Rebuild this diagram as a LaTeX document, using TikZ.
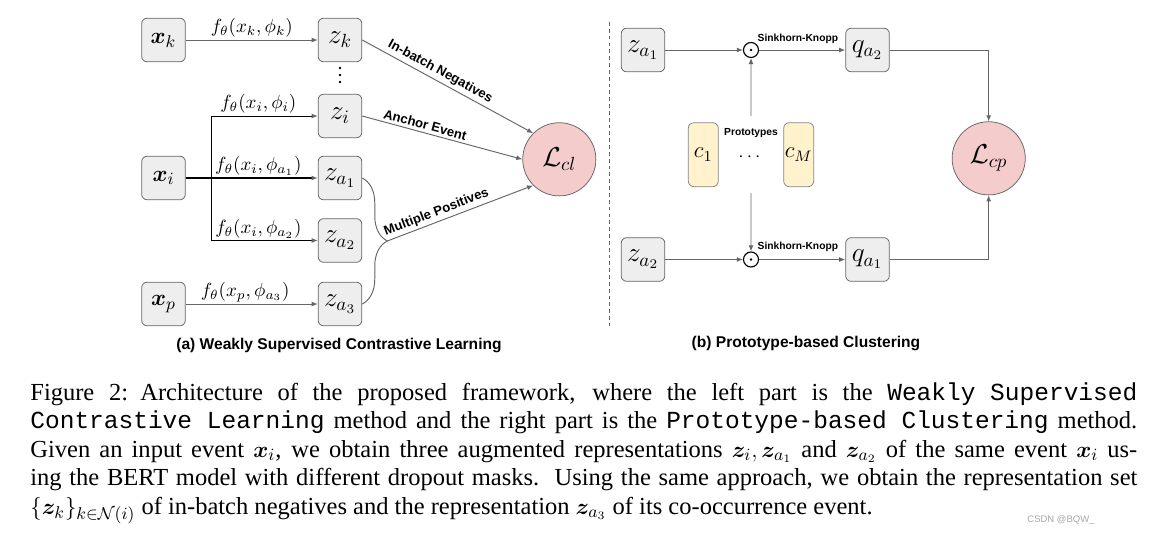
\documentclass[tikz,border=0pt]{standalone}
\usepackage[no-math]{fontspec}
\setmainfont{Liberation Serif}
\setsansfont{Liberation Sans}
\setmonofont{Liberation Mono}
\usepackage{amsmath,bm}
\usetikzlibrary{arrows.meta,positioning,calc,fit,decorations.pathreplacing}

\definecolor{boxgray}{HTML}{EEEEEE}
\definecolor{linegray}{HTML}{666666}
\definecolor{losspink}{HTML}{F4CCCC}
\definecolor{protoyellow}{HTML}{FFF2CC}

\begin{document}
\begin{tikzpicture}[
  x=0.5263pt, y=-0.5263pt,
  blk/.style={draw=linegray, fill=boxgray, rounded corners=3pt, minimum width=23pt, minimum height=23pt, inner sep=0pt, font=\Large},
  inbox/.style={blk, font=\fontsize{13}{15}\selectfont},
  protobox/.style={draw=linegray!80, fill=protoyellow, rounded corners=3pt, minimum width=15.8pt, minimum height=33.7pt, inner sep=0pt, font=\large},
  loss/.style={circle, draw=linegray, fill=losspink, minimum size=38.5pt, inner sep=0pt, font=\Large},
  odot/.style={circle, draw=black, line width=0.6pt, minimum size=7.9pt, inner sep=0pt},
  flow/.style={draw=linegray, line width=0.5pt, -{Latex[length=3.2pt,width=2.6pt]}},
  branch/.style={draw=black, line width=0.5pt, -{Latex[length=3.2pt,width=2.6pt,fill=linegray,color=linegray]}},
  flabel/.style={above, inner sep=1pt, font=\normalsize},
  tag/.style={sloped, above, inner sep=1.5pt, font=\sffamily\bfseries\fontsize{6.9}{8}\selectfont},
  small/.style={inner sep=1pt, font=\sffamily\bfseries\fontsize{5.4}{6.5}\selectfont},
  subcap/.style={inner sep=0pt, font=\sffamily\bfseries\fontsize{8.2}{10}\selectfont}
]
  \useasboundingbox (0,0) rectangle (1164,534);

  % (a) parte izquierda
  \node[inbox] (xk) at (163.5,40) {$\bm{x}_k$};
  \node[blk] (zk) at (340,40) {$z_k$};
  \coordinate (vdots) at (340,75);
  \node[blk] (zi) at (340,116) {$z_i$};
  \node[inbox] (xi) at (163.5,178) {$\bm{x}_i$};
  \node[blk] (za1) at (340,178) {$z_{a_1}$};
  \node[blk] (za2) at (340,240.5) {$z_{a_2}$};
  \node[inbox] (xp) at (163.5,304) {$\bm{x}_p$};
  \node[blk] (za3) at (340,304) {$z_{a_3}$};
  \node[loss] (lcl) at (559.3,159.3) {$\mathcal{L}_{cl}$};

  \coordinate (fork) at (211.7,178);
  \coordinate[xshift=13.2pt] (tip) at ($(za1.east)!.5!(za3.east)$);
  \foreach \d in {-7,0,7}
    \fill ($(vdots)+(0,\d)$) circle (0.7pt);

  % Aristas
  \draw[flow] (xk) -- node[flabel] {$f_\theta(x_k,\phi_k)$} (zk);
  \draw[branch, line width=1pt] (xi) -- node[flabel, pos=.55] {$f_\theta(x_i,\phi_{a_1})$} (za1);
  \draw[branch] (fork) |- node[flabel, pos=.72] {$f_\theta(x_i,\phi_i)$} (zi);
  \draw[branch] (fork) |- node[flabel, pos=.72] {$f_\theta(x_i,\phi_{a_2})$} (za2);
  \draw[flow] (xp) -- node[flabel, pos=.45] {$f_\theta(x_p,\phi_{a_3})$} (za3);

  \draw[flow] (zk.east) -- node[tag, pos=.43] {In-batch Negatives} (lcl.135);
  \draw[flow] (zi.east) -- node[tag, pos=.38] {Anchor Event} (lcl.west);
  \draw[linegray, line width=0.5pt, decorate, decoration={brace, amplitude=13.2pt}] (za1.east) -- (za3.east);
  \draw[flow] (tip) -- node[tag, pos=.36] {Multiple Positives} (lcl.225);

  % separador
  \draw[linegray, dash pattern=on 2pt off 1.6pt] (609.5,22) -- (609.5,326);

  % (b) parte derecha
  \node[blk] (rza1) at (643,50) {$z_{a_1}$};
  \node[odot] (dot1) at (751,50) {};
  \node[blk] (qa2) at (867.5,50) {$q_{a_2}$};
  \node[protobox] (c1) at (703.3,154.7) {$c_1$};
  \node[protobox] (cM) at (798.7,154.7) {$c_M$};
  \node[small] (protolbl) at (751,132.7) {Prototypes};
  \node (pdots) at (751,157) {$\cdots$};
  \node[fit=(c1)(cM)(protolbl), inner sep=3pt] (protos) {};
  \node[blk] (rza2) at (643,259.5) {$z_{a_2}$};
  \node[odot] (dot2) at (751,259.5) {};
  \node[blk] (qa1) at (867.5,259.5) {$q_{a_1}$};
  \node[loss] (lcp) at (988.7,158.3) {$\mathcal{L}_{cp}$};
  \fill (dot1) circle (0.75pt);
  \fill (dot2) circle (0.75pt);

  \draw[flow] (rza1) -- (dot1);
  \draw[flow] (dot1) -- node[small, above=2pt, pos=.45] {Sinkhorn-Knopp} (qa2);
  \draw[flow] (protos.north) -- (dot1);
  \draw[flow] (protos.south) -- (dot2);
  \draw[flow] (rza2) -- (dot2);
  \draw[flow] (dot2) -- node[small, above=3pt, pos=.45] {Sinkhorn-Knopp} (qa1);
  \draw[flow] (qa2) -| (lcp);
  \draw[flow] (qa1) -| (lcp);

  % Etiquetas
  \node[subcap] (capa) at (339,345) {(a) Weakly Supervised Contrastive Learning};
  \node[subcap] (capb) at (806,343) {(b) Prototype-based Clustering};

  \node[anchor=north west, inner sep=0pt, text width=582.6pt, align=justify,
        font=\fontsize{12.9}{15}\selectfont] (caption) at (30,382) {%
    Figure 2:\enskip Architecture of the proposed framework, where the left part is the \texttt{Weakly Supervised}\linebreak
    \texttt{Contrastive Learning} method and the right part is the \texttt{Prototype-based Clustering} method.\linebreak
    Given an input event $\bm{x}_i$, we obtain three augmented representations $\bm{z}_i,\bm{z}_{a_1}$ and $\bm{z}_{a_2}$ of the same event $\bm{x}_i$ us-\linebreak
    ing the BERT model with different dropout masks.\ \ Using the same approach, we obtain the representation set\linebreak
    $\{\bm{z}_k\}_{k\in\mathcal{N}(i)}$ of in-batch negatives and the representation $\bm{z}_{a_3}$ of its co-occurrence event.};
  \node[inner sep=0pt, text=gray!70, font=\sffamily\fontsize{5}{6}\selectfont] (wm) at (1061,520) {CSDN @BQW\_};
\end{tikzpicture}
\end{document}
